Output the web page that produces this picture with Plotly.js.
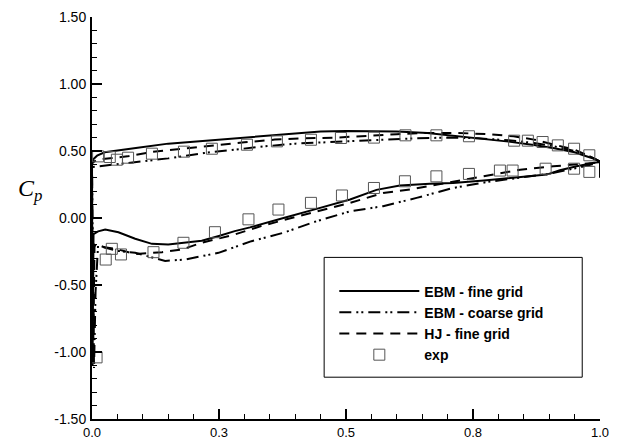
<!DOCTYPE html>
<html>
<head>
<meta charset="utf-8">
<script src="https://cdn.plot.ly/plotly-3.0.1.min.js"></script>
<style>html,body{margin:0;padding:0;background:#fff;}#chart{width:625px;height:440px;}</style>
</head>
<body>
<div id="chart"></div>
<script>
// EBM - fine grid (upper surface TE->LE, then lower surface LE->TE)
var ebmFineX = [1.0,0.99,0.97,0.95,0.91,0.87,0.82,0.77,0.72,0.66,0.60,0.55,0.50,0.45,0.40,0.34,0.28,0.22,0.15,0.09,0.05,0.025,0.01,0.003,0.0,
                0.001,0.003,0.012,0.026,0.052,0.085,0.118,0.15,0.183,0.216,0.248,0.281,0.311,0.341,0.377,0.442,0.508,0.56,0.606,0.665,0.711,0.777,0.843,0.895,0.921,0.954,0.987,1.0,1.0];
var ebmFineCp = [0.42,0.44,0.465,0.49,0.52,0.545,0.57,0.59,0.615,0.635,0.645,0.65,0.65,0.645,0.63,0.61,0.597,0.578,0.555,0.525,0.505,0.49,0.465,0.44,0.40,
                 -1.10,-0.12,-0.10,-0.086,-0.106,-0.155,-0.193,-0.197,-0.185,-0.17,-0.136,-0.098,-0.07,-0.036,0.0,0.068,0.138,0.21,0.242,0.255,0.262,0.281,0.306,0.324,0.356,0.386,0.41,0.42,0.30];

// EBM - coarse grid
var ebmCoarseX = [1.0,0.98,0.95,0.91,0.87,0.82,0.76,0.70,0.64,0.58,0.52,0.46,0.40,0.34,0.28,0.22,0.15,0.09,0.05,0.02,0.008,0.0,
                  0.004,0.007,0.012,0.025,0.05,0.085,0.144,0.183,0.249,0.314,0.377,0.442,0.508,0.573,0.639,0.678,0.711,0.78,0.84,0.90,0.95,0.985,1.0];
var ebmCoarseCp = [0.42,0.46,0.50,0.535,0.56,0.58,0.595,0.60,0.595,0.585,0.575,0.565,0.555,0.535,0.51,0.485,0.445,0.42,0.40,0.39,0.385,0.38,
                   -1.12,-0.55,-0.20,-0.22,-0.245,-0.26,-0.32,-0.31,-0.26,-0.173,-0.11,-0.024,0.05,0.088,0.15,0.192,0.224,0.27,0.30,0.33,0.37,0.40,0.42];

// HJ - fine grid
var hjFineX = [1.0,0.98,0.95,0.91,0.87,0.83,0.78,0.72,0.66,0.60,0.54,0.48,0.42,0.36,0.30,0.24,0.18,0.12,0.07,0.04,0.02,0.008,0.0,
               0.002,0.005,0.012,0.026,0.052,0.085,0.118,0.138,0.177,0.216,0.281,0.333,0.376,0.442,0.508,0.573,0.626,0.68,0.73,0.777,0.843,0.908,0.954,0.985,1.0];
var hjFineCp = [0.42,0.46,0.51,0.55,0.585,0.61,0.625,0.635,0.635,0.625,0.61,0.60,0.595,0.585,0.565,0.542,0.517,0.495,0.46,0.45,0.44,0.43,0.41,
                -1.05,-0.20,-0.21,-0.22,-0.235,-0.27,-0.26,-0.255,-0.235,-0.185,-0.123,-0.06,-0.017,0.05,0.113,0.187,0.212,0.25,0.285,0.316,0.36,0.386,0.40,0.41,0.42];

// Experiment
var expX = [0.012,0.035,0.049,0.071,0.118,0.181,0.236,0.305,0.364,0.431,0.49,0.555,0.617,0.678,0.742,0.831,0.858,0.887,0.917,0.949,0.979,
            0.009,0.027,0.039,0.057,0.121,0.18,0.242,0.308,0.367,0.431,0.492,0.555,0.616,0.678,0.742,0.803,0.828,0.893,0.949,0.979];
var expCp = [0.46,0.455,0.435,0.45,0.48,0.495,0.517,0.547,0.572,0.584,0.597,0.60,0.617,0.617,0.61,0.577,0.577,0.567,0.542,0.517,0.468,
             -1.04,-0.31,-0.23,-0.272,-0.255,-0.185,-0.106,-0.01,0.063,0.113,0.168,0.224,0.274,0.311,0.329,0.354,0.354,0.368,0.368,0.344];

var xTickVals = [0, 0.25, 0.5, 0.75, 1.0];
var xTickText = ["0.0", "0.3", "0.5", "0.8", "1.0"];
var yTickVals = [-1.5, -1.0, -0.5, 0, 0.5, 1.0, 1.5];
var yTickText = ["-1.50", "-1.00", "-0.50", "0.00", "0.50", "1.00", "1.50"];
var seriesNames = ["EBM - fine grid", "EBM - coarse grid", "HJ - fine grid", "exp"];

var traces = [
  {x: ebmFineX, y: ebmFineCp, name: seriesNames[0], mode: 'lines', line: {color: '#000', width: 2}},
  {x: ebmCoarseX, y: ebmCoarseCp, name: seriesNames[1], mode: 'lines', line: {color: '#000', width: 2, dash: '12px,5px,2px,3px,2px,5px'}},
  {x: hjFineX, y: hjFineCp, name: seriesNames[2], mode: 'lines', line: {color: '#000', width: 2, dash: '10px,7px'}},
  {x: expX, y: expCp, name: seriesNames[3], mode: 'markers', marker: {symbol: 'square-open', size: 11, color: '#555', line: {width: 1, color: '#555'}}}
];

var layout = {
  width: 625, height: 440, autosize: false,
  margin: {l: 92, r: 25, t: 17, b: 21},
  paper_bgcolor: '#fff', plot_bgcolor: '#fff',
  font: {family: 'Liberation Sans, Arial, sans-serif', size: 14, color: '#000'},
  showlegend: true,
  legend: {
    x: 0.477, y: 0.357, xanchor: 'left', yanchor: 'top',
    bgcolor: 'rgba(0,0,0,0)', borderwidth: 0,
    font: {family: 'Liberation Sans, Arial, sans-serif', size: 14, color: '#000', weight: 'bold'},
    itemwidth: 80, tracegroupgap: 0
  },
  xaxis: {
    range: [0, 1], showgrid: false, zeroline: false, showline: true, linecolor: '#000', linewidth: 2,
    ticks: 'inside', ticklen: 10, tickwidth: 1.5, tickcolor: '#000',
    tickmode: 'array', tickvals: xTickVals, ticktext: xTickText,
    minor: {ticks: 'inside', ticklen: 5, tickwidth: 1, tickcolor: '#000', dtick: 0.05, tick0: 0},
    tickfont: {size: 13}, ticklabelstandoff: 0, fixedrange: true
  },
  yaxis: {
    range: [-1.5, 1.5], showgrid: false, zeroline: false, showline: true, linecolor: '#000', linewidth: 2,
    ticks: 'inside', ticklen: 10, tickwidth: 1.5, tickcolor: '#000',
    tickmode: 'array', tickvals: yTickVals, ticktext: yTickText,
    minor: {ticks: 'inside', ticklen: 5, tickwidth: 1, tickcolor: '#000', dtick: 0.1, tick0: 0},
    tickfont: {size: 14}, ticklabelstandoff: 1, fixedrange: true
  },
  shapes: [
    {type: 'rect', xref: 'paper', yref: 'paper', x0: 0.457, x1: 0.965, y0: 0.104, y1: 0.402,
     line: {color: '#000', width: 1}, fillcolor: 'rgba(0,0,0,0)'}
  ],
  annotations: [
    {xref: 'paper', yref: 'y', x: -0.122, y: 0.21, showarrow: false, xanchor: 'center', yanchor: 'middle',
     text: '<i>C<sub>p</sub></i>', font: {family: 'Liberation Serif, Times New Roman, serif', size: 24, color: '#000'}}
  ]
};

Plotly.newPlot('chart', traces, layout, {displayModeBar: false, staticPlot: true});
</script>
</body>
</html>
